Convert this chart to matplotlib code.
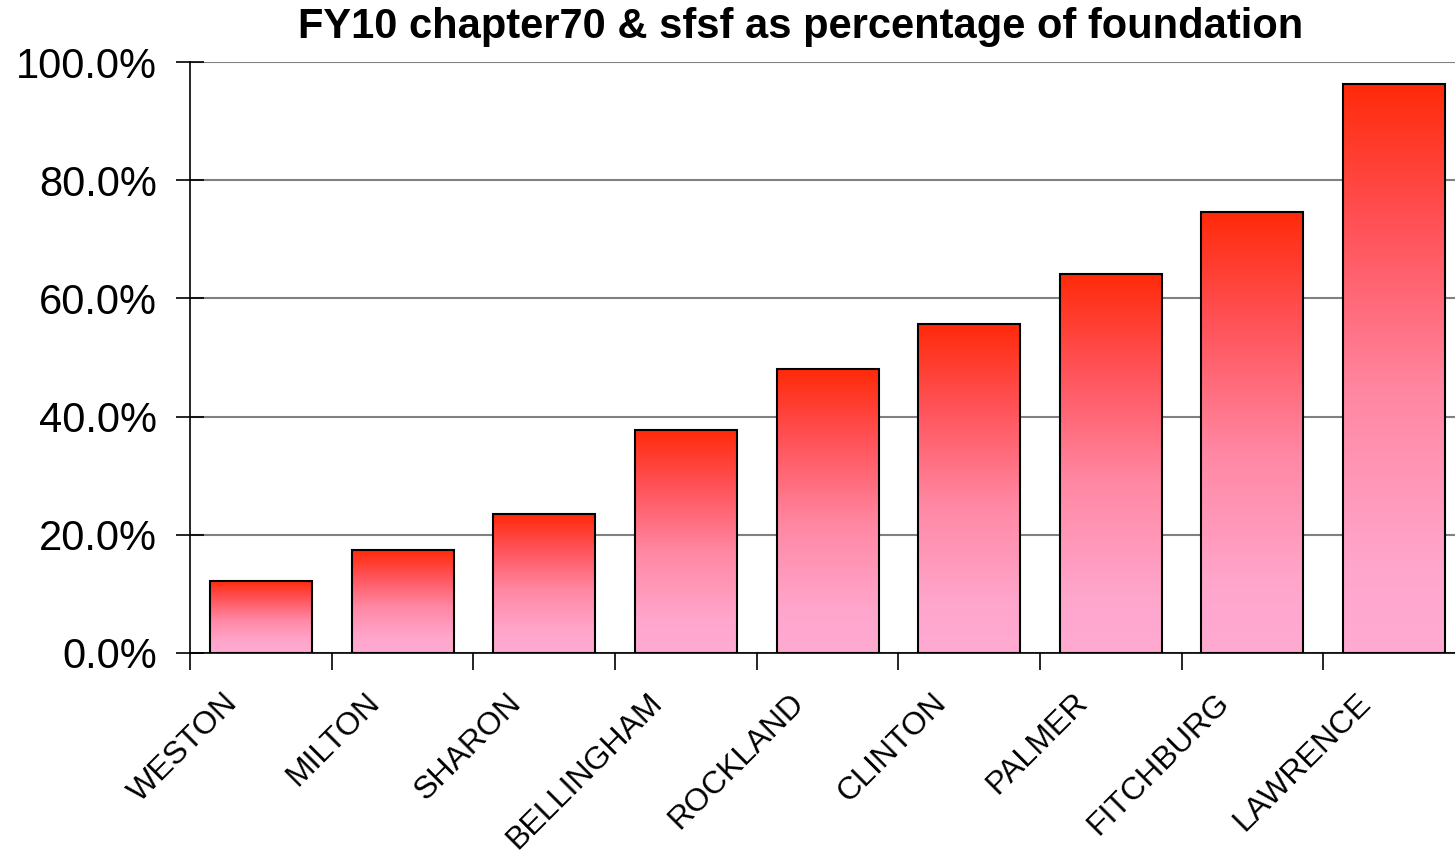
import numpy as np
import matplotlib
matplotlib.use("Agg")
import matplotlib.pyplot as plt
from matplotlib.colors import LinearSegmentedColormap
from matplotlib.transforms import ScaledTranslation

categories = ["WESTON", "MILTON", "SHARON", "BELLINGHAM", "ROCKLAND",
              "CLINTON", "PALMER", "FITCHBURG", "LAWRENCE"]
values = [12.2, 17.4, 23.5, 37.7, 48.0, 55.6, 64.1, 74.6, 96.2]
yticks = [0, 20, 40, 60, 80, 100]
title = "FY10 chapter70 & sfsf as percentage of foundation"

plt.rcParams['font.family'] = ['Liberation Sans', 'DejaVu Sans']

fig = plt.figure(figsize=(14.55, 8.59), dpi=100)
ax = fig.add_axes([190/1455, 1-653/859, 1275/1455, (653-62)/859])

cmap = LinearSegmentedColormap.from_list("grad", [
    (0.0, "#FFAAD2"), (0.15, "#FFA6CC"), (0.45, "#FF88A4"),
    (0.75, "#FF5258"), (1.0, "#FF2A0A")])

width = 0.72
x = np.arange(len(categories))
bars = ax.bar(x, values, width=width, facecolor="none", edgecolor="black",
              linewidth=1.5, zorder=3)
grad = np.linspace(0, 1, 256).reshape(-1, 1)
for b in bars:
    x0 = b.get_x()
    w, h = b.get_width(), b.get_height()
    ax.imshow(grad, extent=[x0, x0 + w, 0, h], origin="lower",
              aspect="auto", cmap=cmap, zorder=2, interpolation="bilinear")

ax.set_xlim(-0.5, len(categories) - 0.5)
ax.set_ylim(0, 100)

ax.set_yticks(yticks)
ax.set_yticklabels([f"{v:.1f}%" for v in yticks], fontsize=30)
ax.yaxis.grid(True, color="#808080", linewidth=1.5, zorder=0)
ax.set_axisbelow(True)
ax.tick_params(axis="y", direction="inout", length=20, width=1.2, pad=14)

ax.set_xticks(np.arange(len(categories) + 1) - 0.5)
ax.set_xticklabels([])
ax.tick_params(axis="x", which="major", direction="out", length=12, width=1.2)
ax.set_xticks(x, minor=True)
ax.set_xticklabels(categories, minor=True, rotation=45, ha="right", va="top",
                   fontsize=23)
ax.tick_params(axis="x", which="minor", length=0, pad=25)
off = ScaledTranslation(-17/100, 0, fig.dpi_scale_trans)
for lab in ax.get_xticklabels(minor=True):
    lab.set_transform(lab.get_transform() + off)

for s in ["top", "right"]:
    ax.spines[s].set_visible(False)
ax.spines["left"].set_linewidth(1.2)
ax.spines["bottom"].set_linewidth(1.2)

fig.text(801/1455, 1-38/859, title, ha="center", va="baseline",
         fontsize=30, fontweight="bold")

fig.savefig("out.png", dpi=100)
